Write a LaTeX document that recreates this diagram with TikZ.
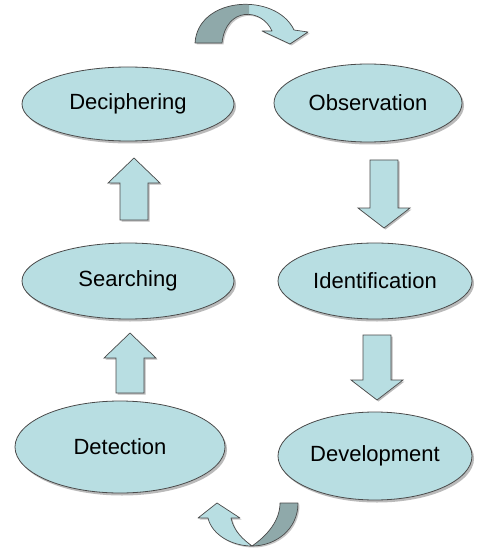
\documentclass[tikz,border=0pt]{standalone}
\usepackage{fontspec}
\setmainfont{Liberation Sans}
\usetikzlibrary{shapes.geometric,shadows}
\definecolor{cyanfill}{HTML}{B8DEE2}
\definecolor{tealdark}{HTML}{8FA9AA}
\definecolor{edgegray}{HTML}{4A4A4A}
\tikzset{
  stage/.style={ellipse, draw=edgegray, line width=0.8pt, fill=cyanfill,
    inner sep=0pt, font=\fontsize{22}{26}\selectfont,
    drop shadow={shadow xshift=2pt, shadow yshift=-2.5pt, fill=black!45, opacity=0.6}},
  block/.style={draw=edgegray, line width=0.7pt, fill=cyanfill,
    drop shadow={shadow xshift=1.5pt, shadow yshift=-1.5pt, fill=black!45, opacity=0.6}},
  ribbon/.style={draw=edgegray, line width=0.7pt, line join=round}
}
% vertical block arrow: centre x, tail y, head-base y, tip y
\newcommand{\vblock}[4]{%
  \draw[block] (#1-14,#2) -- (#1+14,#2) -- (#1+14,#3) -- (#1+26,#3)
    -- (#1,#4) -- (#1-26,#3) -- (#1-14,#3) -- cycle;}
\begin{document}
\begin{tikzpicture}[x=1pt,y=-1pt]
\useasboundingbox (0,0) rectangle (483,548);

\node[stage, minimum width=212pt, minimum height=74pt] (dec) at (128,104) {Deciphering};
\node[stage, minimum width=188pt, minimum height=78pt] (obs) at (368,103) {Observation};
\node[stage, minimum width=212pt, minimum height=76pt] (sea) at (128,281) {Searching};
\node[stage, minimum width=194pt, minimum height=76pt] (ide) at (375,281) {Identification};
\node[stage, minimum width=210pt, minimum height=92pt] (det) at (120,447) {Detection};
\node[stage, minimum width=194pt, minimum height=88pt] (dev) at (375,456) {Development};

% straight block arrows between the stages
\vblock{134}{220}{183}{158}
\vblock{130}{393}{358}{333}
\vblock{384}{160}{208}{228}
\vblock{377}{335}{380}{400}

% curved arrow at the top: Deciphering over to Observation
\path[fill=black!45, opacity=0.5, xshift=1.5pt, yshift=-1.5pt]
  (195,43) .. controls (198,-4) and (276,-8) .. (294,30) -- (308,32) -- (290,44)
  -- (262,31) -- (272,31) .. controls (262,8) and (226,6) .. (222,43) -- cycle;
\fill[cyanfill]
  (195,43) .. controls (198,-4) and (276,-8) .. (294,30) -- (308,32) -- (290,44)
  -- (262,31) -- (272,31) .. controls (262,8) and (226,6) .. (222,43) -- cycle;
\begin{scope}
  \clip (0,0) rectangle (249,60);
  \fill[tealdark]
    (195,43) .. controls (198,-4) and (276,-8) .. (294,30)
    -- (272,31) .. controls (262,8) and (226,6) .. (222,43) -- cycle;
\end{scope}
\draw[ribbon]
  (195,43) .. controls (198,-4) and (276,-8) .. (294,30) -- (308,32) -- (290,44)
  -- (262,31) -- (272,31) .. controls (262,8) and (226,6) .. (222,43) -- cycle;

% curved arrow at the bottom: Development round to Detection
\path[fill=black!45, opacity=0.5, xshift=1.5pt, yshift=-1.5pt]
  (217,503) -- (240,518) -- (231,518) .. controls (234,532) and (244,540) .. (252,545)
  .. controls (270,535) and (280,520) .. (280,503) -- (298,503)
  .. controls (298,530) and (275,546) .. (252,546)
  .. controls (232,546) and (212,535) .. (208,518) -- (198,518) -- cycle;
\draw[ribbon, fill=tealdark]
  (280,503) -- (298,503) .. controls (298,530) and (275,546) .. (252,546)
  .. controls (268,535) and (280,520) .. (280,503) -- cycle;
\draw[ribbon, fill=cyanfill]
  (217,503) -- (240,518) -- (231,518) .. controls (234,532) and (244,540) .. (252,546)
  .. controls (232,546) and (212,535) .. (208,518) -- (198,518) -- cycle;
\end{tikzpicture}
\end{document}
